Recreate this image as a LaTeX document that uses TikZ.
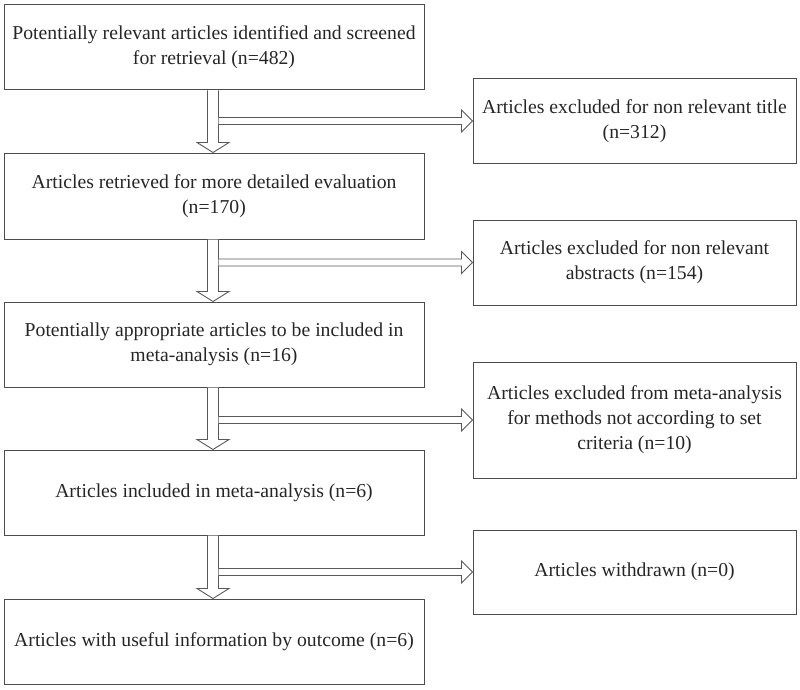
\documentclass[tikz,border=0pt]{standalone}
\usepackage{fontspec}
\setmainfont{Liberation Serif}
\usetikzlibrary{calc}
\begin{document}
\begin{tikzpicture}[x=1pt,y=1pt,
  box/.style={draw=black!70, line width=1pt, rectangle, align=center, text=black!85,
     font=\fontsize{19.7}{25}\selectfont, inner sep=0pt},
  lbox/.style={box, minimum width=420pt, minimum height=85pt},
  rbox/.style={box, minimum width=323pt, minimum height=84pt},
  arr/.style={draw=black!65, line width=0.9pt, fill=white, line join=miter}]
\useasboundingbox (0,0) rectangle (800,-690);

\node[lbox] (b1) at (214,-47.5) {Potentially relevant articles identified and screened\\for retrieval (n=482)};
\node[lbox, minimum height=86pt] (b2) at (214,-196) {Articles retrieved for more detailed evaluation\\(n=170)};
\node[lbox] (b3) at (214,-344.5) {Potentially appropriate articles to be included in\\meta-analysis (n=16)};
\node[lbox] (b4) at (214,-492.5) {Articles included in meta-analysis (n=6)};
\node[lbox] (b5) at (214,-641.5) {Articles with useful information by outcome (n=6)};

\node[rbox] (r1) at (634.5,-121) {Articles excluded for non relevant title\\(n=312)};
\node[rbox, minimum height=85pt] (r2) at (634.5,-262.5) {Articles excluded for non relevant\\abstracts (n=154)};
\node[rbox, minimum height=116pt] (r3) at (634.5,-420) {Articles excluded from meta-analysis\\for methods not according to set\\criteria (n=10)};
\node[rbox] (r4) at (634.5,-572) {Articles withdrawn (n=0)};

\foreach \a/\b/\r in {b1/b2/r1, b2/b3/r2, b3/b4/r3, b4/b5/r4}{
  \draw[arr] ($(\a.south)+(-6.5,0)$) -- ($(\b.north)+(-6.5,10)$) -- ($(\b.north)+(-17,10)$)
     -- ($(\b.north)+(-1,0)$) -- ($(\b.north)+(15,10)$) -- ($(\b.north)+(4.5,10)$)
     -- ($(\a.south)+(4.5,0)$);
  \path (\a.south) ++(4.5,0) coordinate (s\a);
  \coordinate (h\a) at (s\a |- \r.west);
  \draw[arr] ($(h\a)+(0,3.5)$) -- ($(\r.west)+(-11,3.5)$) -- ($(\r.west)+(-11,11)$)
     -- (\r.west) -- ($(\r.west)+(-11,-11)$) -- ($(\r.west)+(-11,-3.5)$) -- ($(h\a)+(0,-3.5)$);
}
\end{tikzpicture}
\end{document}
